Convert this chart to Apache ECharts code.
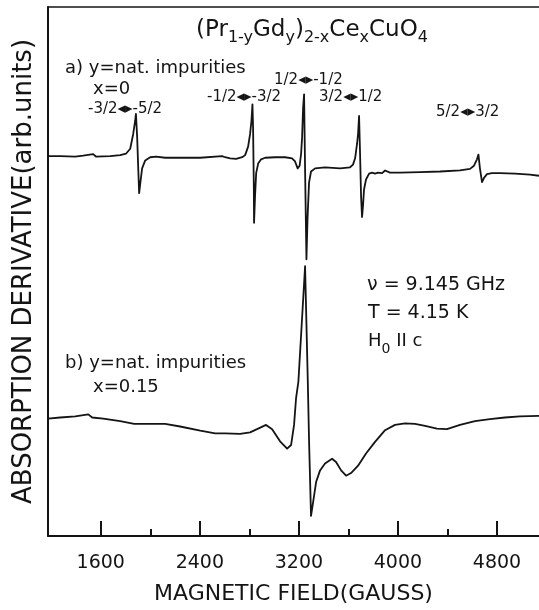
<!DOCTYPE html>
<html>
<head>
<meta charset="utf-8">
<script src="https://cdn.jsdelivr.net/npm/echarts@6/dist/echarts.min.js"></script>
<style>
html,body{margin:0;padding:0;background:#fff;}
#chart{width:539px;height:610px;}
</style>
</head>
<body>
<div id="chart"></div>
<script>
// Magnetic field (gauss) and absorption derivative (arb. units)
const fieldA = [1174,1192,1273,1394,1458,1539,1563,1676,1757,1805,1838,1862,1878,1884,1894,1902,1910,1922,1934,1959,1999,2047,2120,2241,2403,2580,2604,2645,2693,2742,2766,2790,2806,2817,2825,2830,2836,2838,2846,2855,2871,2895,2927,3008,3089,3145,3169,3190,3206,3218,3226,3234,3242,3250,3261,3270,3282,3298,3331,3411,3533,3613,3637,3654,3670,3678,3686,3694,3702,3710,3718,3726,3742,3767,3791,3815,3839,3872,3896,3936,4017,4178,4340,4501,4582,4614,4638,4650,4662,4679,4695,4719,4759,4824,4945,5066,5139];
const derivA = [71.8,71.8,71.8,71.7,71.9,72.2,71.7,71.8,72.0,72.3,73.2,76.0,78.5,79.8,75.4,70.0,64.8,67.2,69.5,71.0,71.6,71.7,71.5,71.5,71.5,71.8,71.6,71.4,71.3,71.6,72.0,73.6,76.0,78.5,81.6,77.3,66.2,59.2,64.3,68.6,70.4,71.2,71.5,71.6,71.6,71.4,70.8,69.5,70.0,72.3,75.4,80.9,83.5,69.3,52.3,60.1,66.8,68.9,69.5,69.7,69.5,69.7,70.2,71.4,74.2,76.0,79.4,72.3,64.3,60.3,62.5,65.5,67.4,68.5,68.7,68.5,68.7,68.6,69.1,68.7,68.7,68.8,68.9,69.1,69.4,70.0,71.2,72.1,69.5,66.9,67.7,68.4,68.6,68.6,68.5,68.3,68.1];
const fieldB = [1174,1273,1394,1499,1531,1620,1757,1870,1999,2120,2241,2403,2524,2604,2725,2806,2871,2935,2984,3048,3105,3137,3161,3177,3196,3250,3272,3282,3298,3315,3339,3371,3411,3468,3500,3541,3581,3621,3678,3742,3815,3896,3976,4057,4138,4219,4315,4396,4501,4622,4743,4864,4985,5139];
const derivB = [22.2,22.4,22.6,23.0,22.4,22.2,21.7,21.2,21.2,21.2,20.7,19.9,19.4,19.4,19.3,19.6,20.3,21.0,20.2,17.9,16.5,17.2,21.0,26.0,29.2,51.0,29.2,18.1,3.8,6.4,10.2,12.4,13.7,14.6,14.0,12.4,11.4,11.9,13.3,15.6,17.8,20.0,21.0,21.3,21.2,20.8,20.3,20.2,21.0,21.7,22.1,22.4,22.6,22.7];
const majorTicks = [1600,2400,3200,4000,4800];
const minorTicks = [2000,2800,3600,4400];
const fieldMin = 1174, fieldMax = 5139;
const transitions = ['-3/2◂▸-5/2','-1/2◂▸-3/2','1/2◂▸-1/2','3/2◂▸1/2','5/2◂▸3/2'];

const FONT = 'DejaVu Sans';
const INK = '#141414';
const chart = echarts.init(document.getElementById('chart'), null, {renderer:'canvas'});

const zip = (xs, ys) => xs.map((x,i)=>[x, ys[i]]);

function txt(x, y, text, size, extra){
  return Object.assign({
    type:'text', x:x, y:y, silent:true,
    style:{text:text, fill:INK, font: size+'px "'+FONT+'"', textAlign:'left', textVerticalAlign:'middle'}
  }, extra||{});
}

const option = {
  animation:false,
  backgroundColor:'#fff',
  grid:{left:48, right:0, top:7, bottom:63},
  xAxis:[
    {type:'value', min:fieldMin, max:fieldMax, position:'bottom',
     axisLine:{show:true, lineStyle:{color:INK, width:2}},
     axisTick:{show:true, inside:true, length:15, customValues:majorTicks, lineStyle:{color:INK, width:2}},
     axisLabel:{show:true, customValues:majorTicks, margin:18, fontSize:19, color:INK, fontFamily:FONT,
       formatter:function(v){return String(v);}},
     splitLine:{show:false},
     name:'MAGNETIC FIELD(GAUSS)', nameLocation:'middle', nameGap:47,
     nameTextStyle:{fontSize:22, color:INK, fontFamily:FONT}},
    {type:'value', min:fieldMin, max:fieldMax, position:'bottom',
     axisLine:{show:false},
     axisTick:{show:true, inside:true, length:7, customValues:minorTicks, lineStyle:{color:INK, width:2}},
     axisLabel:{show:false}, splitLine:{show:false}},
    {type:'value', min:fieldMin, max:fieldMax, position:'top',
     axisLine:{show:true, lineStyle:{color:INK, width:1.5}},
     axisTick:{show:false}, axisLabel:{show:false}, splitLine:{show:false}}
  ],
  yAxis:{type:'value', min:0, max:100,
     axisLine:{show:true, lineStyle:{color:INK, width:2}},
     axisTick:{show:false}, axisLabel:{show:false}, splitLine:{show:false},
     name:'ABSORPTION DERIVATIVE(arb.units)', nameLocation:'middle', nameGap:11,
     nameTextStyle:{fontSize:26, color:INK, fontFamily:FONT}},
  series:[
    {type:'line', name:'a', data:zip(fieldA, derivA), showSymbol:false, smooth:false,
     lineStyle:{color:INK, width:1.8, join:'round'}},
    {type:'line', name:'b', data:zip(fieldB, derivB), showSymbol:false, smooth:false,
     lineStyle:{color:INK, width:1.8, join:'round'}}
  ],
  graphic:[
    {type:'text', x:196, y:14, silent:true,
     style:{text:'(Pr{s|1-y}Gd{s|y}){s|2-x}Ce{s|x}CuO{s|4}', fill:INK,
       font:'23px "'+FONT+'"', textAlign:'left', textVerticalAlign:'top',
       rich:{s:{fontSize:16, fontFamily:FONT, fill:INK, verticalAlign:'bottom', lineHeight:32}}}},
    txt(65, 68, 'a) y=nat. impurities', 18),
    txt(93, 89, 'x=0', 18),
    txt(88, 109.5, transitions[0], 15),
    txt(207, 97.5, transitions[1], 15),
    txt(274, 80.5, transitions[2], 15),
    txt(319, 97, transitions[3], 15),
    txt(436, 111.7, transitions[4], 15),
    txt(367, 285, 'ν = 9.145 GHz', 19),
    txt(368, 312.7, 'T = 4.15 K', 19),
    {type:'text', x:368, y:326, silent:true,
     style:{text:'H{s|0} II c', fill:INK, font:'18px "'+FONT+'"', textAlign:'left', textVerticalAlign:'top',
       rich:{s:{fontSize:14, fontFamily:FONT, fill:INK, verticalAlign:'bottom', lineHeight:30}}}},
    txt(65, 363, 'b) y=nat. impurities', 18),
    txt(93, 387, 'x=0.15', 18)
  ]
};
chart.setOption(option);
</script>
</body>
</html>
